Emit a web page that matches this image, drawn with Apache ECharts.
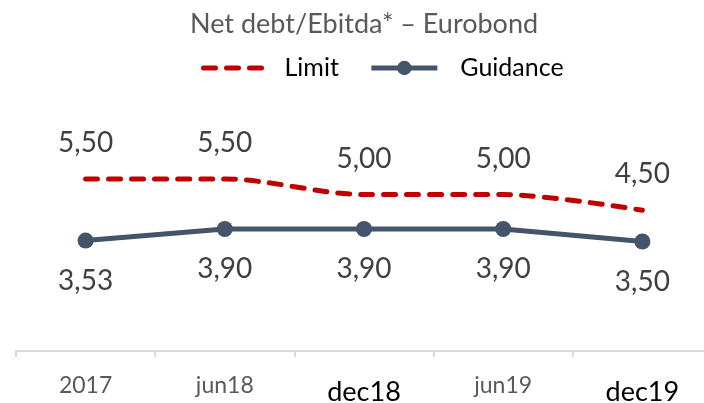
<!DOCTYPE html>
<html>
<head>
<meta charset="utf-8">
<script src="https://cdn.jsdelivr.net/npm/echarts@6/dist/echarts.min.js"></script>
<style>
  html, body { margin: 0; padding: 0; background: #fff; }
  #chart { width: 704px; height: 403px; }
</style>
</head>
<body>
<div id="chart"></div>
<script>
const categories = ['2017', 'jun18', 'dec18', 'jun19', 'dec19'];
const boldCategories = ['dec18', 'dec19'];
const limitValues = [5.5, 5.5, 5.0, 5.0, 4.5];
const guidanceValues = [3.53, 3.9, 3.9, 3.9, 3.5];

const font = 'Lato';
const fmt = (v) => v.toFixed(2).replace('.', ',');

const chart = echarts.init(document.getElementById('chart'));

chart.setOption({
  animation: false,
  title: {
    text: 'Net debt/Ebitda* \u2013 Eurobond',
    left: 190,
    top: 9,
    padding: 0,
    textStyle: { fontFamily: font, fontSize: 27, fontWeight: 'normal', color: '#595959', lineHeight: 30 }
  },
  legend: {
    left: 201,
    top: 53,
    padding: 0,
    itemWidth: 66,
    itemHeight: 18,
    itemGap: 30,
    lineStyle: { width: 5 },
    textStyle: { fontFamily: font, fontSize: 25, color: '#000', lineHeight: 30, padding: [0, 0, 0, 10] },
    data: [
      { name: 'Limit', itemStyle: { opacity: 0 } },
      { name: 'Guidance', textStyle: { padding: [0, 0, 0, 18] } }
    ]
  },
  grid: {
    left: 16,
    width: 696,
    top: 132,
    bottom: 52,
    containLabel: false,
    outerBoundsMode: 'none'
  },
  xAxis: {
    type: 'category',
    data: categories,
    boundaryGap: true,
    axisLine: { lineStyle: { color: '#d9d9d9', width: 2 } },
    axisTick: { show: true, length: 6, lineStyle: { color: '#d9d9d9', width: 2 } },
    axisLabel: {
      margin: 19,
      formatter: (v) => boldCategories.includes(v) ? '{b|' + v + '}' : '{g|' + v + '}',
      rich: {
        g: { fontFamily: font, fontSize: 23, color: '#595959', lineHeight: 32 },
        b: { fontFamily: font, fontSize: 27, color: '#000', lineHeight: 44 }
      }
    }
  },
  yAxis: {
    type: 'value',
    min: 0,
    max: 7,
    show: false
  },
  series: [
    {
      name: 'Limit',
      type: 'line',
      data: limitValues,
      symbol: 'circle',
      symbolSize: 0,
      smooth: 0.3,
      lineStyle: { color: '#c00000', width: 5, type: [12, 11], cap: 'round' },
      itemStyle: { color: '#c00000' },
      label: {
        show: true,
        position: 'top',
        distance: 22,
        formatter: (p) => fmt(p.value),
        fontFamily: font, fontSize: 28, color: '#404040', lineHeight: 28
      }
    },
    {
      name: 'Guidance',
      type: 'line',
      data: guidanceValues,
      symbol: 'circle',
      symbolSize: 16,
      lineStyle: { color: '#44546a', width: 5 },
      itemStyle: { color: '#44546a' },
      label: {
        show: true,
        position: 'bottom',
        distance: 18,
        formatter: (p) => fmt(p.value),
        fontFamily: font, fontSize: 28, color: '#404040', lineHeight: 28
      }
    }
  ]
});
</script>
</body>
</html>
